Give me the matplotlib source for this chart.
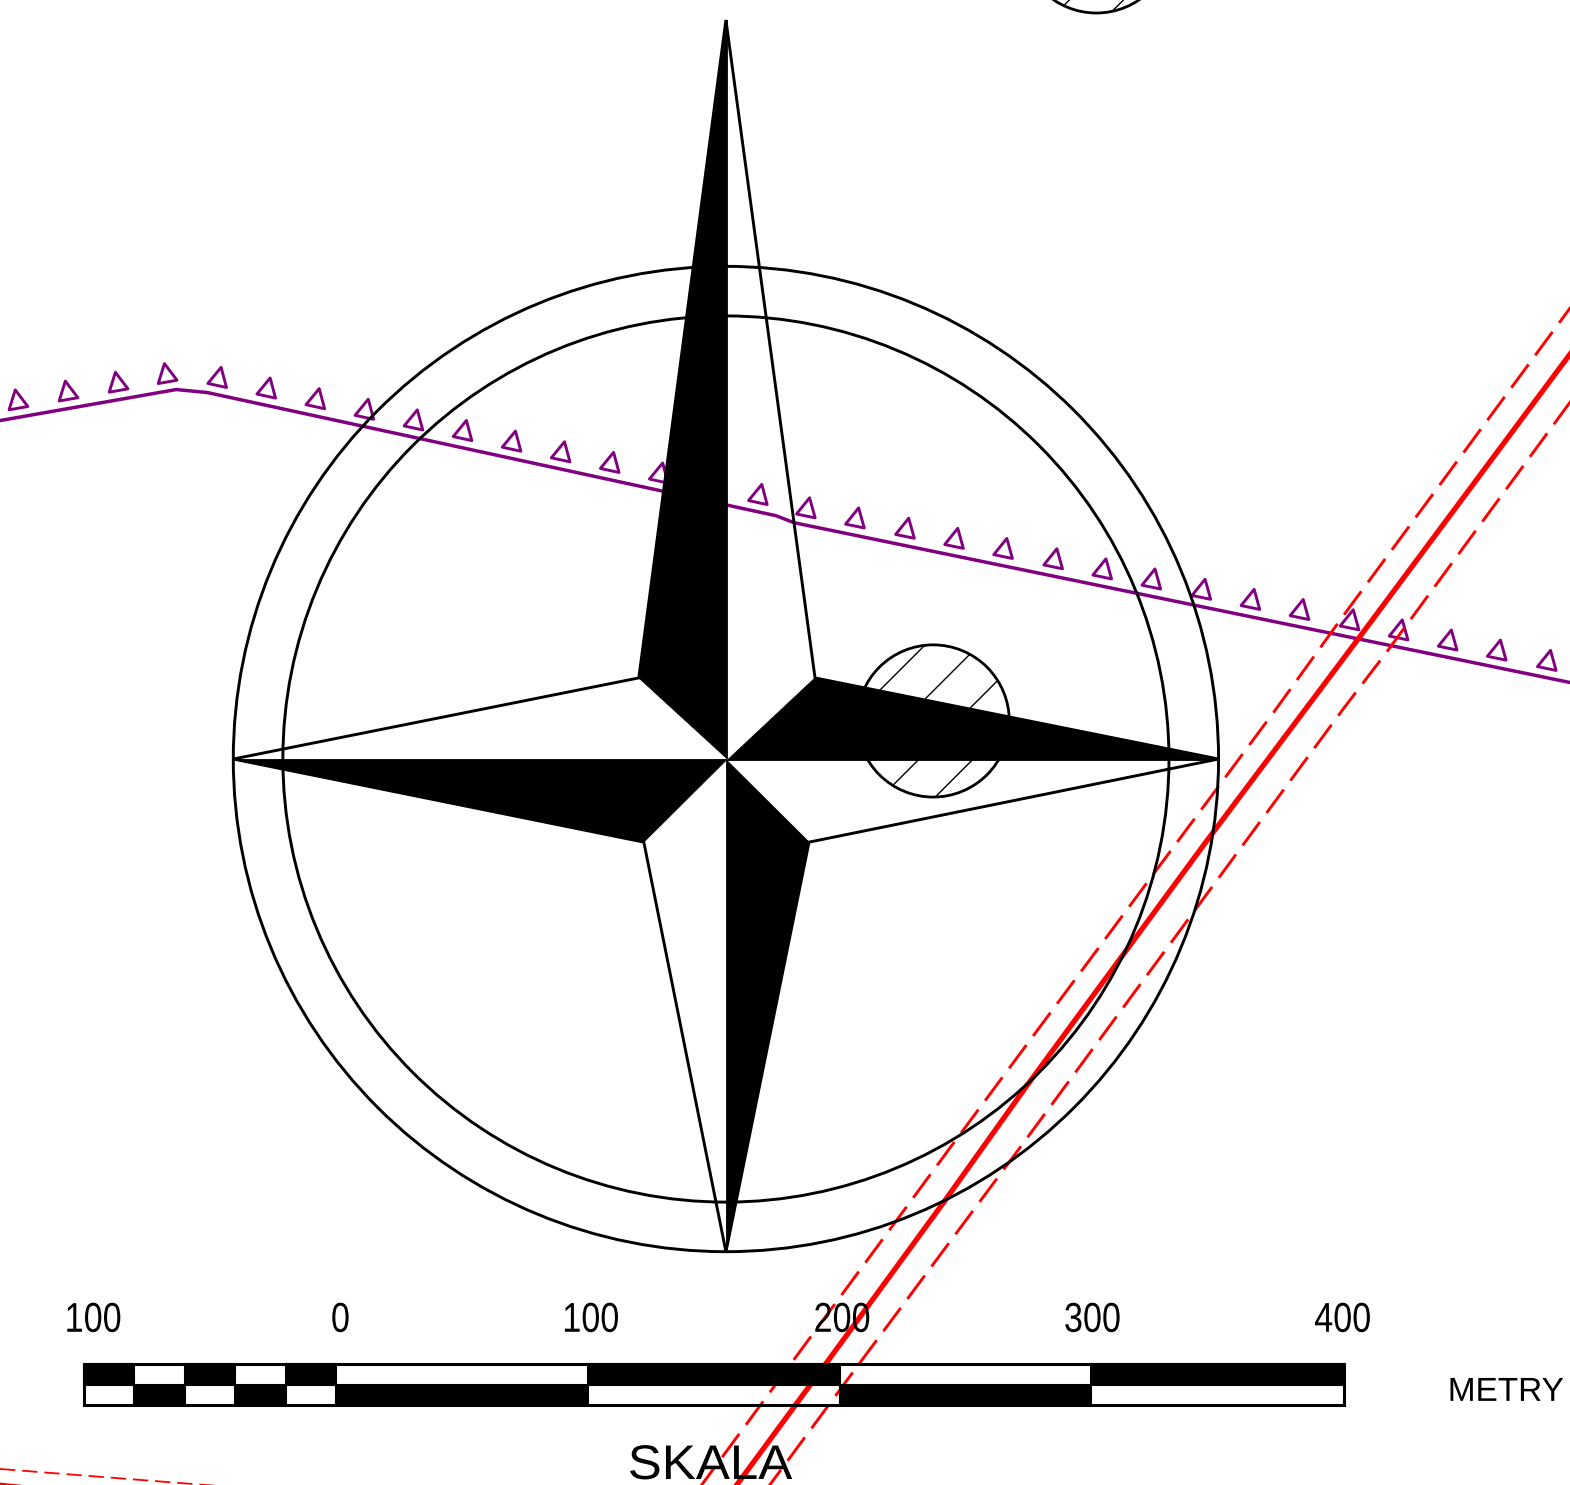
import numpy as np
import matplotlib
matplotlib.use('Agg')
import matplotlib.pyplot as plt
from matplotlib.patches import Circle, Polygon, Rectangle
from matplotlib.patheffects import AbstractPathEffect
from matplotlib.transforms import Affine2D

plt.rcParams['lines.scale_dashes'] = False

rings = [(725, 758, 492), (725, 758, 442.5)]
hatched_circles = [(932, 720, 76), (1095, -63, 76)]
hatch_offsets = [[1568, 1622, 1676, 1730], [1068, 1122]]

star_tips = [(725, 20), (1217, 758), (725, 1250), (233, 758)]
star_inner = [(814, 677), (808, 841), (643, 841), (638, 677)]
star_black = [[(726.5, 20), (638, 677), (726.5, 758)],
              [(814, 677), (1217, 759.5), (726, 759.5)],
              [(725.5, 1250), (808, 841), (725.5, 759)],
              [(233, 758.5), (643, 841), (726, 758.5)]]

fault_x = [0, 176, 207, 775, 793, 1570]
fault_y = [420, 389, 392, 515, 522, 682]
tick_x = [20, 70, 120, 169, 215, 264, 313, 362, 411, 460, 509, 558, 607, 656,
          705, 755, 803, 852, 902, 951, 1000, 1050, 1099, 1148, 1198, 1247,
          1296, 1346, 1395, 1444, 1493, 1543]

road_x = [1570, 1355, 1205, 1025, 943, 824, 735]
road_y = [351, 640, 840, 1085, 1200, 1363, 1484]
edge1_x = [1570, 1343, 1273, 952, 792, 700]
edge1_y = [305, 613, 710, 1142, 1359, 1484]
edge2_x = [1570, 1385, 1340, 1018, 858, 768]
edge2_y = [399, 651, 710, 1147, 1362, 1484]
corner_x = [0, 218]
corner_y = [1467, 1484]
corner2_x = [0, 30]
corner2_y = [1482, 1485]

scale_edges = [84, 134, 184.5, 235, 285.5, 335.5, 587, 839, 1090, 1342]
top_black = [1, 0, 1, 0, 1, 0, 1, 0, 1]
scale_ticks = ['100', '0', '100', '200', '300', '400']
scale_tick_x = [93, 340, 590, 841, 1091, 1341]

PURPLE = '#800080'
RED = '#ff0000'


# squeezes or widens a text around its anchor, the drawing has a narrow lettering
class StretchX(AbstractPathEffect):
    def __init__(self, sx, xc):
        super().__init__()
        self.sx = sx
        self.xc = xc

    def draw_path(self, renderer, gc, tpath, affine, rgbFace=None):
        squeeze = Affine2D().translate(-self.xc, 0).scale(self.sx, 1).translate(self.xc, 0)
        renderer.draw_path(gc, tpath, affine + squeeze, rgbFace)


fig = plt.figure(figsize=(15.7, 14.85), dpi=100)
ax = fig.add_axes([0, 0, 1, 1])
ax.set_xlim(0, 1568)
ax.set_ylim(1483, 0)
ax.axis('off')


def stretched_text(x, y, s, size, sx):
    xc = ax.transData.transform((x, y))[0]
    ax.text(x, y, s, ha='center', va='baseline', fontsize=size, family='Liberation Sans',
            color='black', zorder=8, path_effects=[StretchX(sx, xc)])


# fault line with its triangles
ax.plot(fault_x, fault_y, color=PURPLE, lw=2.5, zorder=2, solid_joinstyle='miter')
for x in tick_x:
    y = np.interp(x, fault_x, fault_y)
    seg = min(np.searchsorted(fault_x, x, side='right') - 1, len(fault_x) - 2)
    ang = np.arctan2(fault_y[seg + 1] - fault_y[seg], fault_x[seg + 1] - fault_x[seg])
    along = np.array([np.cos(ang), np.sin(ang)])
    up = np.array([np.sin(ang), -np.cos(ang)])
    base = np.array([x, y]) + up * 9
    tri = [base - along * 9.5, base + along * 9.5, base + up * 18.5]
    ax.add_patch(Polygon(tri, closed=True, fill=False, edgecolor=PURPLE, lw=2.1,
                         joinstyle='round', zorder=2))

# road
ax.plot(road_x, road_y, color=RED, lw=3.8, zorder=3)
ax.plot(edge1_x, edge1_y, color=RED, lw=2.1, zorder=3, dash_capstyle='butt',
        linestyle=(6.5, (20.9, 8.1)))
ax.plot(edge2_x, edge2_y, color=RED, lw=2.1, zorder=3, dash_capstyle='butt',
        linestyle=(0, (20.9, 8.1)))
ax.plot(corner_x, corner_y, color=RED, lw=1.3, zorder=3, dashes=[11, 5])
ax.plot(corner2_x, corner2_y, color=RED, lw=2.0, zorder=3)

# hatched circles
for (cx, cy, r), offsets in zip(hatched_circles, hatch_offsets):
    c = Circle((cx, cy), r, fill=False, edgecolor='black', lw=2.0, zorder=4)
    ax.add_patch(c)
    for k in offsets:
        ln, = ax.plot([cx - r, cx + r], [k - cx + r, k - cx - r], color='black', lw=1.0, zorder=4)
        ln.set_clip_path(Circle((cx, cy), r, transform=ax.transData))

# compass
for cx, cy, r in rings:
    ax.add_patch(Circle((cx, cy), r, fill=False, edgecolor='black', lw=2.1, zorder=5))
outline = []
for tip, inner in zip(star_tips, star_inner):
    outline += [tip, inner]
ax.add_patch(Polygon(outline, closed=True, fill=False, edgecolor='black', lw=2.1, zorder=5))
for tri in star_black:
    ax.add_patch(Polygon(tri, closed=True, facecolor='black', edgecolor='black', lw=0.6, zorder=6))

# scale bar
y_top, y_mid, y_bot = 1362.5, 1383.5, 1403.5
ax.add_patch(Rectangle((scale_edges[0], y_top), scale_edges[-1] - scale_edges[0], y_bot - y_top,
                       fill=False, edgecolor='black', lw=2.2, zorder=7))
for i, blk in enumerate(top_black):
    left, w = scale_edges[i], scale_edges[i + 1] - scale_edges[i]
    y0 = y_top if blk else y_mid
    ax.add_patch(Rectangle((left, y0), w, y_mid - y_top if blk else y_bot - y_mid,
                           facecolor='black', edgecolor='black', lw=1.5, zorder=7))

for x, lab in zip(scale_tick_x, scale_ticks):
    stretched_text(x, 1330, lab, 30, 0.82)
stretched_text(1504, 1399, 'METRY', 24, 1.0)
stretched_text(709, 1477, 'SKALA', 35, 1.05)

fig.savefig('out.png', dpi=100, facecolor='white')
